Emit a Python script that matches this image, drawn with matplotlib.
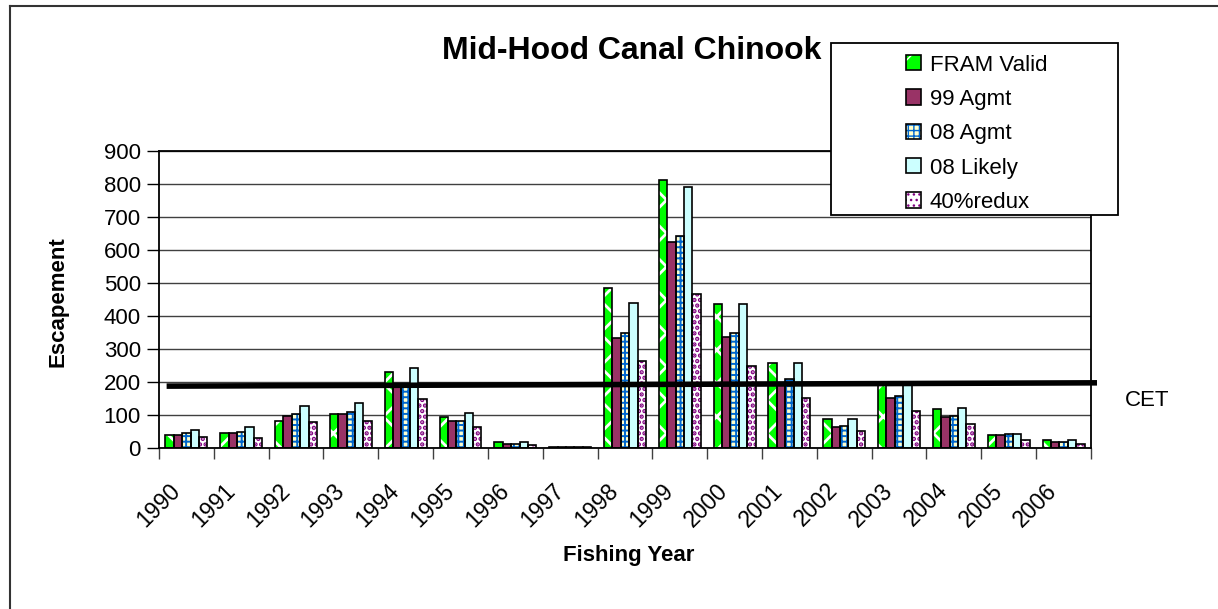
import numpy as np
import matplotlib
matplotlib.use("Agg")
import matplotlib.pyplot as plt
from matplotlib.patches import Rectangle
from matplotlib.lines import Line2D
from matplotlib.transforms import ScaledTranslation

plt.rcParams['font.family'] = ['Liberation Sans', 'DejaVu Sans']

years = ['1990', '1991', '1992', '1993', '1994', '1995', '1996', '1997', '1998',
         '1999', '2000', '2001', '2002', '2003', '2004', '2005', '2006']
fram_valid = [40, 45, 84, 104, 230, 94, 19, 4, 484, 811, 435, 259, 88, 190, 118, 39, 24]
agmt_99 = [40, 45, 99, 104, 185, 84, 14, 4, 333, 625, 338, 190, 63, 153, 94, 39, 19]
agmt_08 = [45, 50, 104, 109, 185, 84, 14, 4, 348, 641, 348, 210, 68, 157, 99, 44, 19]
likely_08 = [55, 65, 129, 138, 244, 108, 19, 4, 440, 791, 435, 259, 88, 195, 123, 44, 24]
redux_40 = [35, 30, 79, 84, 148, 64, 9, 3, 265, 466, 250, 151, 53, 113, 73, 24, 14]
series_names = ['FRAM Valid', '99 Agmt', '08 Agmt', '08 Likely', '40%redux']
cet_ends = [188, 198]   # CET line, left end and right end

# face colour, hatch colour, hatch pattern, hatch line width
styles = [
    ('#00FF00', 'white', 'x', 2.0),
    ('#993366', '#993366', None, 1.0),
    ('#FFFFCC', '#0066CC', '+++', 1.4),
    ('#CCFFFF', '#CCFFFF', None, 1.0),
    ('white', '#800080', '...', 2.2),
]

fig = plt.figure(figsize=(12.18, 6.09), dpi=100)
ax = fig.add_axes([0.1305, 0.2639, 0.8957 - 0.1305, 0.7525 - 0.2639])

x = np.arange(len(years))
w = 0.153
handles = []
for i, vals in enumerate([fram_valid, agmt_99, agmt_08, likely_08, redux_40]):
    fc, hc, hatch, hlw = styles[i]
    pos = x + (i - 2) * w
    with plt.rc_context({'hatch.linewidth': hlw}):
        b1 = ax.bar(pos, vals, w, color=fc, edgecolor=hc, hatch=hatch, linewidth=0, zorder=2)
    b2 = ax.bar(pos, vals, w, fill=False, edgecolor='black', linewidth=1.2, zorder=3)
    handles.append((b1[0], b2[0]))

# CET line
cet_x = [-0.36, 16.61]
ax.plot(cet_x, cet_ends, color='black', linewidth=4, solid_capstyle='butt',
        zorder=4, clip_on=False)
ax.text(17.53, 145, 'CET', fontsize=16, ha='center', va='center')

ax.set_xlim(-0.5, len(years) - 0.5)
ax.set_ylim(0, 900)
ax.set_yticks(np.arange(0, 901, 100))
ax.yaxis.grid(True, color='#404040', linewidth=1)
ax.set_axisbelow(True)
ax.tick_params(axis='y', labelsize=16, length=9, width=1, pad=4)

ax.set_xticks(np.arange(len(years) + 1) - 0.5)
ax.set_xticklabels([])
ax.tick_params(axis='x', which='major', length=8, width=1, color='#404040')
ax.set_xticks(x, minor=True)
ax.set_xticklabels(years, minor=True, rotation=45, ha='right', va='top',
                   rotation_mode='anchor', fontsize=16.5)
ax.tick_params(axis='x', which='minor', length=0, pad=22)
for lab in ax.get_xticklabels(minor=True):
    lab.set_transform(lab.get_transform() + ScaledTranslation(-18 / 100, 0, fig.dpi_scale_trans))

for s in ax.spines.values():
    s.set_linewidth(1.3)
    s.set_color('black')

ax.set_ylabel('Escapement', fontsize=16, fontweight='bold')
ax.yaxis.set_label_coords(58 / 1218, 1 - 302 / 609, transform=fig.transFigure)
ax.set_xlabel('Fishing Year', fontsize=16, fontweight='bold')
ax.xaxis.set_label_coords(629 / 1218, 1 - 556 / 609, transform=fig.transFigure)
ax.xaxis.label.set_va('center')
ax.yaxis.label.set_va('center')

fig.text(632 / 1218, 1 - 51 / 609, 'Mid-Hood Canal Chinook', fontsize=23,
         fontweight='bold', ha='center', va='center')

# legend box
fig.patches.append(Rectangle((831 / 1218, 1 - 215 / 609), (1118 - 831) / 1218, (215 - 43) / 609,
                             transform=fig.transFigure, facecolor='white', edgecolor='black',
                             linewidth=1.3, zorder=5))
leg = fig.legend(handles, series_names, loc='upper left',
                 bbox_to_anchor=(890 / 1218, 1 - 39 / 609), frameon=False, fontsize=16,
                 handlelength=0.68, handleheight=0.68, handletextpad=0.4, labelspacing=0.6,
                 borderpad=0.2)
leg.set_zorder(6)

# chart outer border (left and top)
fig.add_artist(Line2D([10 / 1218, 10 / 1218], [0, 1 - 6 / 609], color='#333333', linewidth=1.5,
                      transform=fig.transFigure))
fig.add_artist(Line2D([10 / 1218, 1], [1 - 6 / 609, 1 - 6 / 609], color='#333333', linewidth=1.5,
                      transform=fig.transFigure))

fig.savefig('out.png', dpi=100)
